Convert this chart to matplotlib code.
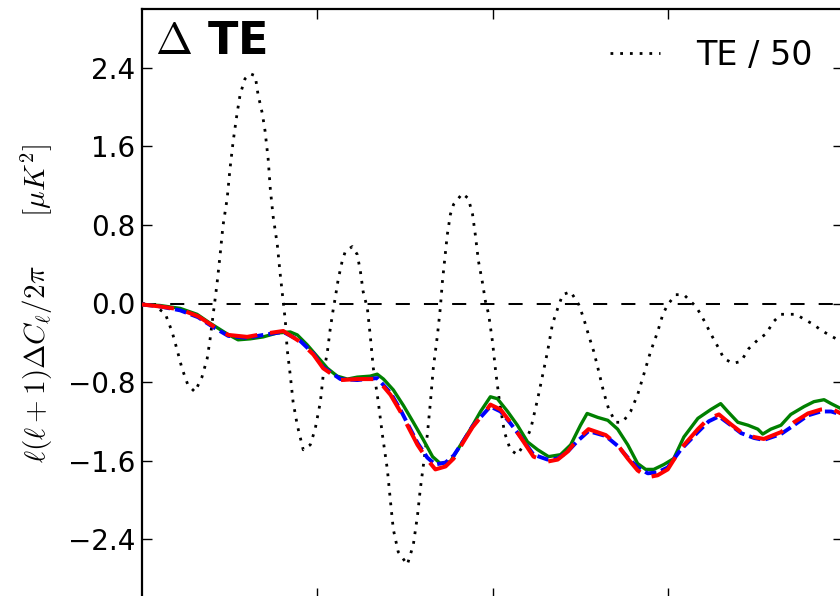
import matplotlib
matplotlib.use("Agg")
import matplotlib.pyplot as plt

plt.rcParams['mathtext.fontset'] = 'cm'
plt.rcParams['font.family'] = 'DejaVu Sans'

# TE / 50 reference spectrum (dotted)
te_ell = [0, 29, 66, 86, 100, 114, 131, 151, 171, 186, 194, 203, 214, 223, 231, 243,
          251, 260, 271, 280, 294, 309, 323, 331, 343, 351, 360, 366, 374, 386, 394, 403,
          409, 414, 423, 431, 443, 460, 480, 494, 509, 517, 529, 537, 546, 551, 560, 571,
          580, 600, 614, 623, 631, 643, 651, 660, 674, 686, 700, 709, 717, 731, 757, 774,
          786, 794, 803, 814, 823, 831, 843, 851, 857, 863, 871, 880, 889, 914, 931, 943,
          951, 960, 971, 980, 989, 1000, 1009, 1020, 1034, 1051, 1071, 1089, 1109, 1129,
          1143, 1157, 1171, 1186, 1200, 1223, 1246, 1260, 1274, 1289, 1303, 1317, 1331,
          1351, 1371, 1394, 1414, 1431, 1451, 1471, 1486, 1500, 1523, 1546, 1566, 1580,
          1594, 1609, 1623, 1646, 1660, 1686, 1709, 1731, 1757, 1780, 1803, 1823, 1866,
          1889, 1914, 1937, 1960, 1986, 2000]
te_val = [0.0, -0.01, -0.10, -0.29, -0.47, -0.66, -0.83, -0.90, -0.75, -0.56, -0.37, -0.11,
          0.20, 0.50, 0.79, 1.07, 1.37, 1.65, 1.93, 2.13, 2.29, 2.34, 2.32, 2.13, 1.94, 1.76,
          1.47, 1.17, 0.89, 0.60, 0.31, 0.02, -0.18, -0.46, -0.73, -1.00, -1.24, -1.49,
          -1.44, -1.28, -1.00, -0.73, -0.49, -0.26, -0.05, 0.05, 0.25, 0.43, 0.53, 0.58,
          0.50, 0.33, 0.12, -0.05, -0.32, -0.66, -1.00, -1.34, -1.69, -2.02, -2.30, -2.53,
          -2.66, -2.46, -2.16, -1.89, -1.64, -1.34, -1.00, -0.66, -0.32, -0.05, 0.22, 0.43,
          0.70, 0.91, 1.01, 1.12, 1.07, 0.91, 0.70, 0.43, 0.22, 0.02, -0.11, -0.39, -0.69,
          -1.00, -1.31, -1.49, -1.54, -1.44, -1.28, -0.97, -0.73, -0.49, -0.21, -0.05, 0.09,
          0.12, -0.01, -0.15, -0.32, -0.49, -0.69, -0.90, -1.07, -1.21, -1.21, -1.10, -0.93,
          -0.73, -0.49, -0.29, -0.11, -0.01, 0.09, 0.09, 0.02, -0.03, -0.11, -0.21, -0.31,
          -0.46, -0.56, -0.61, -0.59, -0.46, -0.37, -0.31, -0.18, -0.11, -0.11, -0.16, -0.21,
          -0.27, -0.32, -0.37, -0.39]

# Delta TE, green run
g_ell = [0, 51, 109, 157, 194, 243, 274, 309, 346, 386, 423, 443, 471, 500, 529, 557, 586,
         614, 651, 671, 689, 717, 746, 774, 803, 829, 851, 880, 909, 937, 966, 994, 1014,
         1043, 1071, 1100, 1129, 1160, 1194, 1223, 1251, 1270, 1300, 1329, 1357, 1386,
         1414, 1437, 1460, 1489, 1517, 1546, 1586, 1623, 1651, 1671, 1700, 1729, 1757,
         1771, 1794, 1823, 1851, 1889, 1917, 1946, 1966, 1994]
g_val = [-0.01, -0.02, -0.05, -0.11, -0.20, -0.31, -0.37, -0.36, -0.34, -0.30, -0.29, -0.32,
         -0.42, -0.54, -0.66, -0.74, -0.77, -0.75, -0.74, -0.72, -0.77, -0.88, -1.04, -1.21,
         -1.39, -1.56, -1.63, -1.61, -1.44, -1.28, -1.10, -0.95, -0.97, -1.10, -1.24, -1.41,
         -1.49, -1.56, -1.54, -1.44, -1.24, -1.12, -1.16, -1.19, -1.28, -1.44, -1.63, -1.69,
         -1.69, -1.64, -1.58, -1.36, -1.17, -1.08, -1.02, -1.10, -1.21, -1.24, -1.28, -1.33,
         -1.28, -1.24, -1.13, -1.05, -1.00, -0.98, -1.02, -1.07]

# Delta TE, red and blue runs
rb_ell = [0, 51, 109, 160, 203, 246, 300, 346, 403, 451, 489, 517, 566, 614, 671, 709, 737,
          757, 786, 814, 837, 866, 889, 917, 943, 986, 994, 1023, 1051, 1089, 1117, 1157,
          1186, 1214, 1243, 1274, 1323, 1357, 1386, 1414, 1443, 1471, 1500, 1537, 1586,
          1617, 1646, 1680, 1709, 1746, 1774, 1823, 1860, 1900, 1937, 1966, 1994]
r_val = [-0.01, -0.03, -0.06, -0.13, -0.23, -0.32, -0.34, -0.31, -0.28, -0.39, -0.52, -0.66,
         -0.78, -0.77, -0.77, -0.93, -1.10, -1.24, -1.44, -1.59, -1.69, -1.66, -1.58, -1.41,
         -1.26, -1.07, -1.03, -1.08, -1.21, -1.41, -1.56, -1.61, -1.59, -1.51, -1.38, -1.28,
         -1.34, -1.44, -1.58, -1.70, -1.77, -1.75, -1.69, -1.48, -1.28, -1.17, -1.13, -1.23,
         -1.31, -1.36, -1.38, -1.31, -1.21, -1.12, -1.08, -1.07, -1.12]
b_val = [-0.01, -0.03, -0.07, -0.14, -0.24, -0.33, -0.35, -0.32, -0.29, -0.38, -0.51, -0.65,
         -0.77, -0.78, -0.76, -0.91, -1.08, -1.22, -1.42, -1.57, -1.64, -1.62, -1.55, -1.40,
         -1.25, -1.08, -1.05, -1.10, -1.22, -1.40, -1.54, -1.59, -1.58, -1.51, -1.40, -1.30,
         -1.35, -1.45, -1.57, -1.67, -1.73, -1.72, -1.67, -1.49, -1.31, -1.20, -1.15, -1.24,
         -1.32, -1.37, -1.39, -1.33, -1.24, -1.14, -1.10, -1.10, -1.13]

yticks = [-2.4, -1.6, -0.8, 0.0, 0.8, 1.6, 2.4]
xticks = [500, 1000, 1500]

fig = plt.figure(figsize=(8.4, 5.96), dpi=100)
ax = fig.add_axes([142 / 840, -2 / 596, 701 / 840, 589 / 596])

ax.plot(te_ell, te_val, color='black', lw=2.0, dashes=(1, 2.5), label='TE / 50', zorder=2)
ax.axhline(0, color='black', lw=1.45, dashes=(7, 7), zorder=1)
ax.plot(g_ell, g_val, color='#008000', lw=2.4, zorder=3)
ax.plot(rb_ell, b_val, color='blue', lw=2.8, dashes=(3, 1.3), zorder=4)
ax.plot(rb_ell, r_val, color='red', lw=2.9, dashes=(8, 3.2), zorder=5)

ax.set_xlim(0, 2000)
ax.set_ylim(-3, 3)
ax.set_yticks(yticks)
ax.set_yticklabels(['%.1f' % v if v >= 0 else '\u2212%.1f' % abs(v) for v in yticks])
ax.set_xticks(xticks)
ax.tick_params(direction='in', length=7, width=1, pad=5, labelsize=20,
               top=True, right=True)
ax.tick_params(axis='x', labelbottom=False)
for s in ax.spines.values():
    s.set_linewidth(1.6)

ax.set_ylabel(r'$\ell(\ell+1)\Delta C_\ell/2\pi\qquad[\mu K^2]$', fontsize=21)
ax.yaxis.set_label_coords(-0.124, 0.5)

ax.text(0.018, 0.982, r'$\Delta$ TE', transform=ax.transAxes, fontsize=32,
        fontweight='bold', ha='left', va='top')

ax.legend(loc='upper right', frameon=False, fontsize=24, handlelength=1.5,
          handletextpad=1.1)

fig.savefig('out.png', dpi=100)
